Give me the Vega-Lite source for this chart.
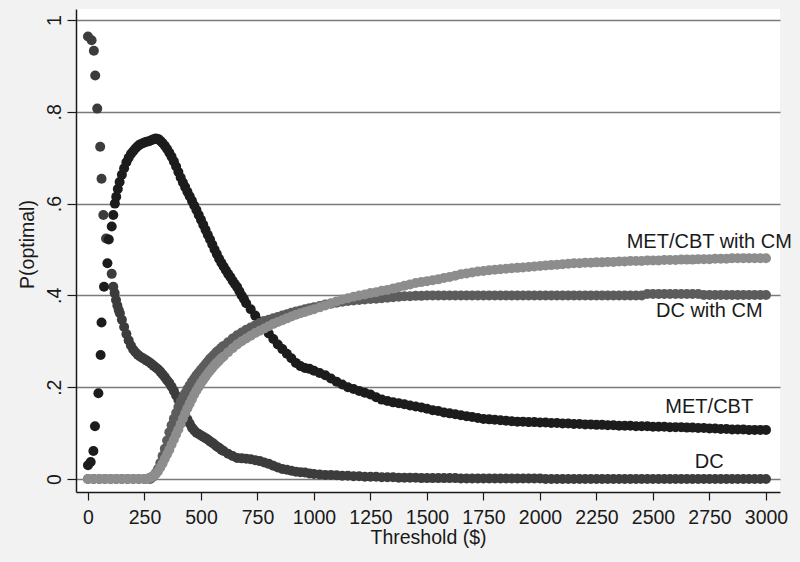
{
 "$schema": "https://vega.github.io/schema/vega-lite/v6.json",
 "width": 704, "height": 483,
 "autosize": {"type": "none"},
 "padding": {"left": 76, "top": 9, "right": 20, "bottom": 70},
 "background": "#f2f2f2",
 "config": {"view": {"fill": "white", "stroke": null}, "font": "Liberation Sans"},
 "datasets": {
  "dc": [{"x":0,"y":0.964},{"x":16,"y":0.956},{"x":26,"y":0.933},{"x":32,"y":0.879},{"x":41,"y":0.807},{"x":54,"y":0.724},{"x":60,"y":0.654},{"x":68,"y":0.575},{"x":80,"y":0.524},{"x":105,"y":0.447},{"x":112,"y":0.419},{"x":118,"y":0.405},{"x":124,"y":0.39},{"x":130,"y":0.378},{"x":136,"y":0.368},{"x":141,"y":0.361},{"x":150,"y":0.347},{"x":160,"y":0.331},{"x":170,"y":0.316},{"x":180,"y":0.302},{"x":190,"y":0.291},{"x":200,"y":0.282},{"x":210,"y":0.276},{"x":220,"y":0.271},{"x":230,"y":0.267},{"x":240,"y":0.264},{"x":250,"y":0.261},{"x":260,"y":0.258},{"x":270,"y":0.255},{"x":280,"y":0.251},{"x":290,"y":0.247},{"x":300,"y":0.243},{"x":310,"y":0.239},{"x":320,"y":0.234},{"x":330,"y":0.228},{"x":340,"y":0.222},{"x":350,"y":0.215},{"x":360,"y":0.209},{"x":370,"y":0.201},{"x":380,"y":0.192},{"x":390,"y":0.182},{"x":400,"y":0.172},{"x":410,"y":0.162},{"x":420,"y":0.151},{"x":430,"y":0.14},{"x":440,"y":0.13},{"x":450,"y":0.121},{"x":460,"y":0.112},{"x":470,"y":0.106},{"x":480,"y":0.101},{"x":490,"y":0.098},{"x":500,"y":0.095},{"x":510,"y":0.092},{"x":520,"y":0.089},{"x":530,"y":0.086},{"x":540,"y":0.082},{"x":550,"y":0.079},{"x":560,"y":0.075},{"x":570,"y":0.071},{"x":580,"y":0.068},{"x":590,"y":0.064},{"x":600,"y":0.061},{"x":620,"y":0.055},{"x":640,"y":0.05},{"x":660,"y":0.046},{"x":680,"y":0.045},{"x":700,"y":0.044},{"x":720,"y":0.043},{"x":740,"y":0.041},{"x":760,"y":0.039},{"x":780,"y":0.036},{"x":800,"y":0.033},{"x":820,"y":0.029},{"x":840,"y":0.025},{"x":860,"y":0.022},{"x":880,"y":0.02},{"x":900,"y":0.018},{"x":920,"y":0.016},{"x":940,"y":0.015},{"x":960,"y":0.014},{"x":980,"y":0.012},{"x":1000,"y":0.011},{"x":1025,"y":0.01},{"x":1050,"y":0.009},{"x":1075,"y":0.009},{"x":1100,"y":0.008},{"x":1125,"y":0.007},{"x":1150,"y":0.007},{"x":1175,"y":0.006},{"x":1200,"y":0.006},{"x":1225,"y":0.005},{"x":1250,"y":0.005},{"x":1275,"y":0.005},{"x":1300,"y":0.004},{"x":1325,"y":0.004},{"x":1350,"y":0.004},{"x":1375,"y":0.003},{"x":1400,"y":0.003},{"x":1425,"y":0.003},{"x":1450,"y":0.003},{"x":1475,"y":0.002},{"x":1500,"y":0.002},{"x":1525,"y":0.002},{"x":1550,"y":0.002},{"x":1575,"y":0.002},{"x":1600,"y":0.002},{"x":1625,"y":0.002},{"x":1650,"y":0.001},{"x":1675,"y":0.001},{"x":1700,"y":0.001},{"x":1725,"y":0.001},{"x":1750,"y":0.001},{"x":1775,"y":0.001},{"x":1800,"y":0.001},{"x":1825,"y":0.001},{"x":1850,"y":0.001},{"x":1875,"y":0.001},{"x":1900,"y":0.001},{"x":1925,"y":0.001},{"x":1950,"y":0.001},{"x":1975,"y":0.001},{"x":2000,"y":0.001},{"x":2025,"y":0},{"x":2050,"y":0},{"x":2075,"y":0},{"x":2100,"y":0},{"x":2125,"y":0},{"x":2150,"y":0},{"x":2175,"y":0},{"x":2200,"y":0},{"x":2225,"y":0},{"x":2250,"y":0},{"x":2275,"y":0},{"x":2300,"y":0},{"x":2325,"y":0},{"x":2350,"y":0},{"x":2375,"y":0},{"x":2400,"y":0},{"x":2425,"y":0},{"x":2450,"y":0},{"x":2475,"y":0},{"x":2500,"y":0},{"x":2525,"y":0},{"x":2550,"y":0},{"x":2575,"y":0},{"x":2600,"y":0},{"x":2625,"y":0},{"x":2650,"y":0},{"x":2675,"y":0},{"x":2700,"y":0},{"x":2725,"y":0},{"x":2750,"y":0},{"x":2775,"y":0},{"x":2800,"y":0},{"x":2825,"y":0},{"x":2850,"y":0},{"x":2875,"y":0},{"x":2900,"y":0},{"x":2925,"y":0},{"x":2950,"y":0},{"x":2975,"y":0},{"x":3000,"y":0}],
  "met": [{"x":0,"y":0.03},{"x":12,"y":0.037},{"x":24,"y":0.061},{"x":31,"y":0.115},{"x":46,"y":0.187},{"x":56,"y":0.27},{"x":60,"y":0.341},{"x":71,"y":0.419},{"x":86,"y":0.47},{"x":92,"y":0.522},{"x":105,"y":0.55},{"x":112,"y":0.575},{"x":119,"y":0.6},{"x":125,"y":0.615},{"x":132,"y":0.632},{"x":140,"y":0.647},{"x":150,"y":0.663},{"x":160,"y":0.677},{"x":170,"y":0.69},{"x":180,"y":0.7},{"x":190,"y":0.708},{"x":200,"y":0.714},{"x":210,"y":0.72},{"x":220,"y":0.725},{"x":230,"y":0.729},{"x":240,"y":0.731},{"x":250,"y":0.733},{"x":260,"y":0.735},{"x":270,"y":0.736},{"x":280,"y":0.738},{"x":290,"y":0.74},{"x":300,"y":0.742},{"x":310,"y":0.741},{"x":320,"y":0.737},{"x":330,"y":0.732},{"x":340,"y":0.726},{"x":350,"y":0.719},{"x":360,"y":0.711},{"x":370,"y":0.702},{"x":380,"y":0.692},{"x":390,"y":0.681},{"x":400,"y":0.669},{"x":410,"y":0.657},{"x":420,"y":0.646},{"x":430,"y":0.636},{"x":440,"y":0.626},{"x":450,"y":0.616},{"x":460,"y":0.606},{"x":470,"y":0.596},{"x":480,"y":0.586},{"x":490,"y":0.575},{"x":500,"y":0.565},{"x":510,"y":0.554},{"x":520,"y":0.543},{"x":530,"y":0.532},{"x":540,"y":0.522},{"x":550,"y":0.511},{"x":560,"y":0.5},{"x":570,"y":0.49},{"x":580,"y":0.48},{"x":590,"y":0.471},{"x":600,"y":0.463},{"x":610,"y":0.455},{"x":620,"y":0.447},{"x":630,"y":0.44},{"x":640,"y":0.432},{"x":650,"y":0.425},{"x":660,"y":0.418},{"x":670,"y":0.409},{"x":680,"y":0.4},{"x":690,"y":0.392},{"x":700,"y":0.383},{"x":720,"y":0.37},{"x":740,"y":0.356},{"x":760,"y":0.343},{"x":780,"y":0.33},{"x":800,"y":0.317},{"x":820,"y":0.305},{"x":840,"y":0.293},{"x":860,"y":0.283},{"x":880,"y":0.273},{"x":900,"y":0.263},{"x":920,"y":0.253},{"x":940,"y":0.246},{"x":960,"y":0.242},{"x":980,"y":0.24},{"x":1000,"y":0.236},{"x":1025,"y":0.231},{"x":1050,"y":0.226},{"x":1075,"y":0.219},{"x":1100,"y":0.212},{"x":1125,"y":0.206},{"x":1150,"y":0.2},{"x":1175,"y":0.196},{"x":1200,"y":0.192},{"x":1225,"y":0.188},{"x":1250,"y":0.184},{"x":1275,"y":0.178},{"x":1300,"y":0.173},{"x":1325,"y":0.17},{"x":1350,"y":0.167},{"x":1375,"y":0.165},{"x":1400,"y":0.163},{"x":1425,"y":0.16},{"x":1450,"y":0.158},{"x":1475,"y":0.156},{"x":1500,"y":0.153},{"x":1525,"y":0.15},{"x":1550,"y":0.148},{"x":1575,"y":0.145},{"x":1600,"y":0.143},{"x":1625,"y":0.141},{"x":1650,"y":0.139},{"x":1675,"y":0.137},{"x":1700,"y":0.135},{"x":1725,"y":0.133},{"x":1750,"y":0.131},{"x":1775,"y":0.13},{"x":1800,"y":0.129},{"x":1825,"y":0.128},{"x":1850,"y":0.127},{"x":1875,"y":0.126},{"x":1900,"y":0.125},{"x":1925,"y":0.125},{"x":1950,"y":0.124},{"x":1975,"y":0.124},{"x":2000,"y":0.123},{"x":2025,"y":0.123},{"x":2050,"y":0.122},{"x":2075,"y":0.122},{"x":2100,"y":0.121},{"x":2125,"y":0.121},{"x":2150,"y":0.12},{"x":2175,"y":0.12},{"x":2200,"y":0.119},{"x":2225,"y":0.119},{"x":2250,"y":0.118},{"x":2275,"y":0.118},{"x":2300,"y":0.117},{"x":2325,"y":0.117},{"x":2350,"y":0.116},{"x":2375,"y":0.116},{"x":2400,"y":0.116},{"x":2425,"y":0.115},{"x":2450,"y":0.115},{"x":2475,"y":0.115},{"x":2500,"y":0.114},{"x":2525,"y":0.114},{"x":2550,"y":0.114},{"x":2575,"y":0.113},{"x":2600,"y":0.113},{"x":2625,"y":0.113},{"x":2650,"y":0.112},{"x":2675,"y":0.112},{"x":2700,"y":0.111},{"x":2725,"y":0.111},{"x":2750,"y":0.11},{"x":2775,"y":0.11},{"x":2800,"y":0.109},{"x":2825,"y":0.109},{"x":2850,"y":0.108},{"x":2875,"y":0.108},{"x":2900,"y":0.108},{"x":2925,"y":0.107},{"x":2950,"y":0.107},{"x":2975,"y":0.107},{"x":3000,"y":0.107}],
  "dccm": [{"x":0,"y":0},{"x":25,"y":0},{"x":50,"y":0},{"x":75,"y":0},{"x":100,"y":0},{"x":125,"y":0},{"x":150,"y":0},{"x":175,"y":0},{"x":200,"y":0},{"x":225,"y":0},{"x":250,"y":0},{"x":275,"y":0},{"x":285,"y":0.004},{"x":290,"y":0.007},{"x":300,"y":0.013},{"x":310,"y":0.022},{"x":320,"y":0.035},{"x":330,"y":0.05},{"x":340,"y":0.066},{"x":350,"y":0.084},{"x":360,"y":0.102},{"x":370,"y":0.117},{"x":380,"y":0.131},{"x":390,"y":0.144},{"x":400,"y":0.157},{"x":410,"y":0.168},{"x":420,"y":0.178},{"x":430,"y":0.187},{"x":440,"y":0.196},{"x":450,"y":0.204},{"x":460,"y":0.212},{"x":470,"y":0.219},{"x":480,"y":0.226},{"x":490,"y":0.232},{"x":500,"y":0.238},{"x":510,"y":0.244},{"x":520,"y":0.25},{"x":530,"y":0.256},{"x":540,"y":0.262},{"x":550,"y":0.267},{"x":560,"y":0.272},{"x":570,"y":0.277},{"x":580,"y":0.281},{"x":590,"y":0.286},{"x":600,"y":0.29},{"x":620,"y":0.298},{"x":640,"y":0.306},{"x":660,"y":0.313},{"x":680,"y":0.319},{"x":700,"y":0.325},{"x":720,"y":0.33},{"x":740,"y":0.335},{"x":760,"y":0.34},{"x":780,"y":0.344},{"x":800,"y":0.347},{"x":820,"y":0.35},{"x":840,"y":0.353},{"x":860,"y":0.356},{"x":880,"y":0.359},{"x":900,"y":0.362},{"x":920,"y":0.365},{"x":940,"y":0.367},{"x":960,"y":0.37},{"x":980,"y":0.372},{"x":1000,"y":0.374},{"x":1025,"y":0.377},{"x":1050,"y":0.38},{"x":1075,"y":0.382},{"x":1100,"y":0.384},{"x":1125,"y":0.386},{"x":1150,"y":0.388},{"x":1175,"y":0.389},{"x":1200,"y":0.39},{"x":1225,"y":0.391},{"x":1250,"y":0.392},{"x":1275,"y":0.393},{"x":1300,"y":0.394},{"x":1325,"y":0.395},{"x":1350,"y":0.396},{"x":1375,"y":0.397},{"x":1400,"y":0.398},{"x":1425,"y":0.398},{"x":1450,"y":0.399},{"x":1475,"y":0.399},{"x":1500,"y":0.4},{"x":1525,"y":0.4},{"x":1550,"y":0.4},{"x":1575,"y":0.4},{"x":1600,"y":0.4},{"x":1625,"y":0.4},{"x":1650,"y":0.4},{"x":1675,"y":0.4},{"x":1700,"y":0.4},{"x":1725,"y":0.4},{"x":1750,"y":0.4},{"x":1775,"y":0.4},{"x":1800,"y":0.4},{"x":1825,"y":0.4},{"x":1850,"y":0.4},{"x":1875,"y":0.4},{"x":1900,"y":0.4},{"x":1925,"y":0.4},{"x":1950,"y":0.4},{"x":1975,"y":0.4},{"x":2000,"y":0.4},{"x":2025,"y":0.4},{"x":2050,"y":0.4},{"x":2075,"y":0.4},{"x":2100,"y":0.4},{"x":2125,"y":0.4},{"x":2150,"y":0.4},{"x":2175,"y":0.4},{"x":2200,"y":0.4},{"x":2225,"y":0.4},{"x":2250,"y":0.4},{"x":2275,"y":0.4},{"x":2300,"y":0.4},{"x":2325,"y":0.4},{"x":2350,"y":0.4},{"x":2375,"y":0.4},{"x":2400,"y":0.4},{"x":2425,"y":0.4},{"x":2450,"y":0.4},{"x":2475,"y":0.403},{"x":2500,"y":0.403},{"x":2525,"y":0.403},{"x":2550,"y":0.403},{"x":2575,"y":0.403},{"x":2600,"y":0.403},{"x":2625,"y":0.403},{"x":2650,"y":0.403},{"x":2675,"y":0.403},{"x":2700,"y":0.403},{"x":2725,"y":0.401},{"x":2750,"y":0.401},{"x":2775,"y":0.401},{"x":2800,"y":0.401},{"x":2825,"y":0.401},{"x":2850,"y":0.401},{"x":2875,"y":0.401},{"x":2900,"y":0.401},{"x":2925,"y":0.401},{"x":2950,"y":0.401},{"x":2975,"y":0.401},{"x":3000,"y":0.401}],
  "metcm": [{"x":0,"y":0},{"x":25,"y":0},{"x":50,"y":0},{"x":75,"y":0},{"x":100,"y":0},{"x":125,"y":0},{"x":150,"y":0},{"x":175,"y":0},{"x":200,"y":0},{"x":225,"y":0},{"x":250,"y":0},{"x":260,"y":0},{"x":270,"y":0.002},{"x":280,"y":0.004},{"x":290,"y":0.007},{"x":300,"y":0.011},{"x":310,"y":0.017},{"x":320,"y":0.025},{"x":330,"y":0.034},{"x":340,"y":0.044},{"x":350,"y":0.054},{"x":360,"y":0.064},{"x":370,"y":0.075},{"x":380,"y":0.086},{"x":390,"y":0.097},{"x":400,"y":0.108},{"x":410,"y":0.12},{"x":420,"y":0.132},{"x":430,"y":0.143},{"x":440,"y":0.154},{"x":450,"y":0.164},{"x":460,"y":0.174},{"x":470,"y":0.184},{"x":480,"y":0.193},{"x":490,"y":0.201},{"x":500,"y":0.209},{"x":510,"y":0.216},{"x":520,"y":0.223},{"x":530,"y":0.23},{"x":540,"y":0.236},{"x":550,"y":0.242},{"x":560,"y":0.248},{"x":570,"y":0.253},{"x":580,"y":0.258},{"x":590,"y":0.263},{"x":600,"y":0.267},{"x":620,"y":0.276},{"x":640,"y":0.285},{"x":660,"y":0.293},{"x":680,"y":0.3},{"x":700,"y":0.306},{"x":720,"y":0.312},{"x":740,"y":0.318},{"x":760,"y":0.323},{"x":780,"y":0.328},{"x":800,"y":0.333},{"x":820,"y":0.338},{"x":840,"y":0.342},{"x":860,"y":0.346},{"x":880,"y":0.35},{"x":900,"y":0.354},{"x":920,"y":0.358},{"x":940,"y":0.361},{"x":960,"y":0.364},{"x":980,"y":0.367},{"x":1000,"y":0.37},{"x":1025,"y":0.374},{"x":1050,"y":0.378},{"x":1075,"y":0.383},{"x":1100,"y":0.387},{"x":1125,"y":0.391},{"x":1150,"y":0.394},{"x":1175,"y":0.397},{"x":1200,"y":0.4},{"x":1225,"y":0.402},{"x":1250,"y":0.405},{"x":1275,"y":0.407},{"x":1300,"y":0.41},{"x":1325,"y":0.412},{"x":1350,"y":0.415},{"x":1375,"y":0.418},{"x":1400,"y":0.421},{"x":1425,"y":0.424},{"x":1450,"y":0.427},{"x":1475,"y":0.429},{"x":1500,"y":0.431},{"x":1525,"y":0.433},{"x":1550,"y":0.435},{"x":1575,"y":0.438},{"x":1600,"y":0.44},{"x":1625,"y":0.443},{"x":1650,"y":0.446},{"x":1675,"y":0.448},{"x":1700,"y":0.45},{"x":1725,"y":0.452},{"x":1750,"y":0.453},{"x":1775,"y":0.455},{"x":1800,"y":0.456},{"x":1825,"y":0.457},{"x":1850,"y":0.458},{"x":1875,"y":0.459},{"x":1900,"y":0.46},{"x":1925,"y":0.461},{"x":1950,"y":0.462},{"x":1975,"y":0.463},{"x":2000,"y":0.464},{"x":2025,"y":0.465},{"x":2050,"y":0.466},{"x":2075,"y":0.467},{"x":2100,"y":0.468},{"x":2125,"y":0.469},{"x":2150,"y":0.47},{"x":2175,"y":0.47},{"x":2200,"y":0.471},{"x":2225,"y":0.471},{"x":2250,"y":0.472},{"x":2275,"y":0.472},{"x":2300,"y":0.473},{"x":2325,"y":0.473},{"x":2350,"y":0.474},{"x":2375,"y":0.474},{"x":2400,"y":0.475},{"x":2425,"y":0.475},{"x":2450,"y":0.475},{"x":2475,"y":0.476},{"x":2500,"y":0.476},{"x":2525,"y":0.476},{"x":2550,"y":0.477},{"x":2575,"y":0.477},{"x":2600,"y":0.477},{"x":2625,"y":0.478},{"x":2650,"y":0.478},{"x":2675,"y":0.478},{"x":2700,"y":0.479},{"x":2725,"y":0.479},{"x":2750,"y":0.479},{"x":2775,"y":0.48},{"x":2800,"y":0.48},{"x":2825,"y":0.48},{"x":2850,"y":0.481},{"x":2875,"y":0.481},{"x":2900,"y":0.481},{"x":2925,"y":0.481},{"x":2950,"y":0.481},{"x":2975,"y":0.481},{"x":3000,"y":0.481}],
  "labels": [{"label":"MET/CBT with CM","x":2749,"y":0.517},{"label":"DC with CM","x":2749,"y":0.367},{"label":"MET/CBT","x":2749,"y":0.156},{"label":"DC","x":2749,"y":0.037}]
 },
 "encoding": {
  "x": {"field": "x", "type": "quantitative",
   "scale": {"domain": [-53, 3062], "nice": false, "zero": false},
   "axis": {"title": "Threshold ($)", "values": [0,250,500,750,1000,1250,1500,1750,2000,2250,2500,2750,3000], "format": "d", "grid": false,
    "domainColor": "#1a1a1a", "domainWidth": 1.5, "tickColor": "#1a1a1a", "tickSize": 8, "tickWidth": 1.2,
    "labelFont": "Liberation Sans", "labelFontSize": 19.5, "labelColor": "#1a1a1a", "labelPadding": 8, "labelFlush": false, "labelOverlap": false,
    "titleFont": "Liberation Sans", "titleFontSize": 19.5, "titleFontWeight": "normal", "titleColor": "#1a1a1a", "titleBaseline": "top", "titleY": 36}},
  "y": {"field": "y", "type": "quantitative",
   "scale": {"domain": [-0.0283, 1.024], "nice": false, "zero": false},
   "axis": {"title": "P(optimal)", "values": [0,0.2,0.4,0.6,0.8,1], "grid": true, "gridColor": "#7a7a7a", "gridWidth": 1.5, "gridOpacity": 1,
    "domainColor": "#1a1a1a", "domainWidth": 1.5, "tickColor": "#1a1a1a", "tickSize": 9, "tickWidth": 1.2,
    "labelExpr": "datum.value < 0.01 ? '0' : datum.value > 0.99 ? '1' : '.' + round(datum.value * 10)",
    "labelAngle": -90, "labelAlign": "center", "labelBaseline": "alphabetic", "labelPadding": 7,
    "labelFont": "Liberation Sans", "labelFontSize": 19.5, "labelColor": "#1a1a1a", "labelFlush": false, "labelOverlap": false,
    "titleFont": "Liberation Sans", "titleFontSize": 19.5, "titleFontWeight": "normal", "titleColor": "#1a1a1a",
    "titleAngle": -90, "titleAlign": "center", "titleBaseline": "alphabetic", "titleX": -43, "titleY": 235}}
 },
 "layer": [
  {"data": {"name": "dc"}, "mark": {"type": "circle", "size": 100, "opacity": 1, "color": "#3c3c3c"}},
  {"data": {"name": "met"}, "mark": {"type": "circle", "size": 100, "opacity": 1, "color": "#1c1c1c"}},
  {"data": {"name": "dccm"}, "mark": {"type": "circle", "size": 100, "opacity": 1, "color": "#5c5c5c"}},
  {"data": {"name": "metcm"}, "mark": {"type": "circle", "size": 100, "opacity": 1, "color": "#8d8d8d"}},
  {"data": {"name": "labels"}, "mark": {"type": "text", "font": "Liberation Sans", "fontSize": 20, "color": "#1a1a1a", "align": "center", "baseline": "middle"},
   "encoding": {"text": {"field": "label"}}}
 ]
}
